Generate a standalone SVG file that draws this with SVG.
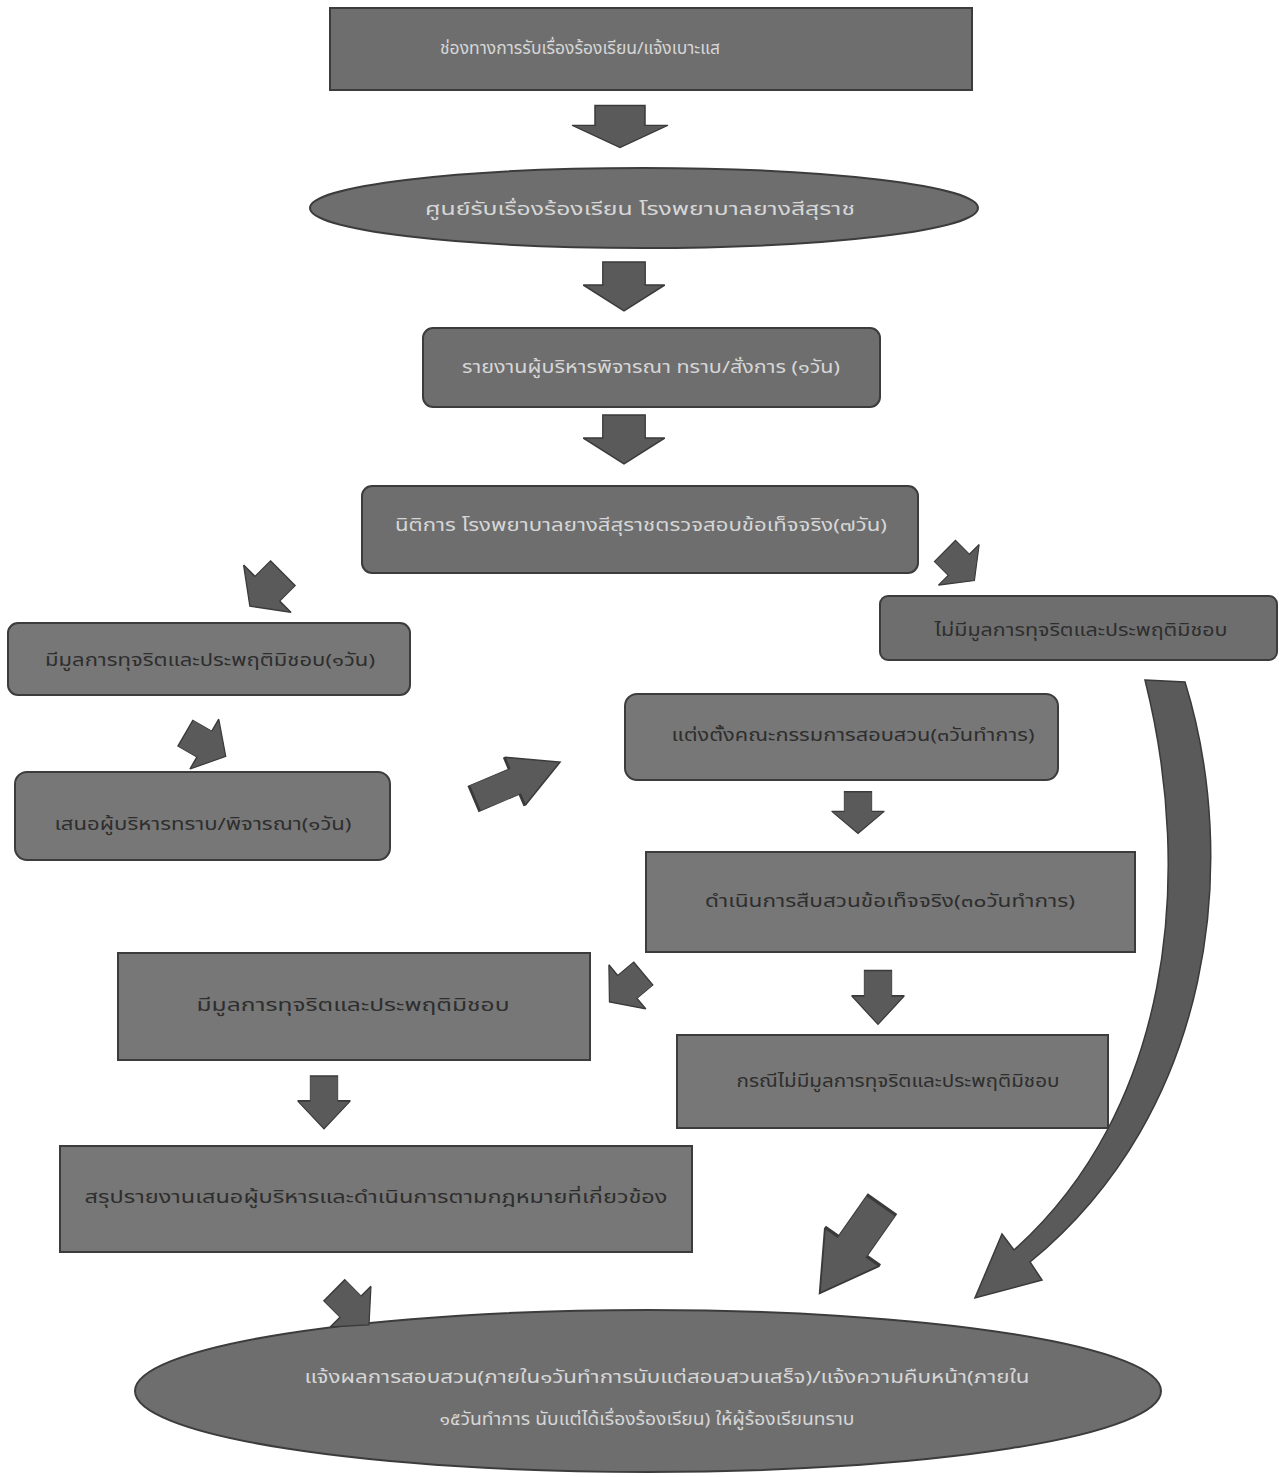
<svg xmlns="http://www.w3.org/2000/svg" xmlns:xlink="http://www.w3.org/1999/xlink" width="1284" height="1477" viewBox="0 0 1284 1477">
<style>
.box{fill:#6e6e6e;stroke:#3c3c3c;stroke-width:2}
.box2{fill:#777777;stroke:#3c3c3c;stroke-width:2}
.arr{fill:#5a5a5a;stroke:#3a3a3a;stroke-width:1.5}
text{font-family:"Noto Sans Thai","Noto Serif Thai","Liberation Serif","DejaVu Serif",serif;font-size:17px;text-anchor:middle}
.lt{fill:#d6d6d6}
.dk{fill:#2e2e2e}
</style>
<defs>
<path id="down" d="M-25,-25 H25 V-2 H48 L0,24 L-48,-2 H-25 Z"/>
</defs>
<rect width="1284" height="1477" fill="#ffffff"/>

<g id="n1"><rect class="box" x="330" y="8" width="642" height="82"/><text class="lt" x="580" y="54" textLength="280" lengthAdjust="spacingAndGlyphs">ช่องทางการรับเรื่องร้องเรียน/แจ้งเบาะแส</text></g>
<g id="n2"><ellipse class="box" cx="644" cy="208" rx="334" ry="40"/><text class="lt" x="640" y="215" textLength="430" lengthAdjust="spacingAndGlyphs">ศูนย์รับเรื่องร้องเรียน โรงพยาบาลยางสีสุราช</text></g>
<g id="n3"><rect class="box" x="423" y="328" width="457" height="79" rx="10"/><text class="lt" x="651" y="373" textLength="378" lengthAdjust="spacingAndGlyphs">รายงานผู้บริหารพิจารณา ทราบ/สั่งการ (๑วัน)</text></g>
<g id="n4"><rect class="box" x="362" y="486" width="556" height="87" rx="10"/><text class="lt" x="641" y="531" textLength="492" lengthAdjust="spacingAndGlyphs">นิติการ โรงพยาบาลยางสีสุราชตรวจสอบข้อเท็จจริง(๗วัน)</text></g>
<g id="n5"><rect class="box2" x="8" y="623" width="402" height="72" rx="10"/><text class="dk" x="210" y="666" textLength="330" lengthAdjust="spacingAndGlyphs">มีมูลการทุจริตและประพฤติมิชอบ(๑วัน)</text></g>
<g id="n6"><rect class="box" x="880" y="596" width="397" height="64" rx="8"/><text class="dk" x="1081" y="636" textLength="293" lengthAdjust="spacingAndGlyphs">ไม่มีมูลการทุจริตและประพฤติมิชอบ</text></g>
<g id="n7"><rect class="box2" x="625" y="694" width="433" height="86" rx="12"/><text class="dk" x="853" y="741" textLength="363" lengthAdjust="spacingAndGlyphs">แต่งตั้งคณะกรรมการสอบสวน(๓วันทำการ)</text></g>
<g id="n8"><rect class="box2" x="15" y="772" width="375" height="88" rx="12"/><text class="dk" x="203" y="830" textLength="297" lengthAdjust="spacingAndGlyphs">เสนอผู้บริหารทราบ/พิจารณา(๑วัน)</text></g>
<g id="n9"><rect class="box2" x="646" y="852" width="489" height="100"/><text class="dk" x="890" y="907" textLength="370" lengthAdjust="spacingAndGlyphs">ดำเนินการสืบสวนข้อเท็จจริง(๓๐วันทำการ)</text></g>
<g id="n10"><rect class="box2" x="118" y="953" width="472" height="107"/><text class="dk" x="353" y="1011" textLength="313" lengthAdjust="spacingAndGlyphs">มีมูลการทุจริตและประพฤติมิชอบ</text></g>
<g id="n11"><rect class="box2" x="677" y="1035" width="431" height="93"/><text class="dk" x="898" y="1087" textLength="323" lengthAdjust="spacingAndGlyphs">กรณีไม่มีมูลการทุจริตและประพฤติมิชอบ</text></g>
<g id="n12"><rect class="box2" x="60" y="1146" width="632" height="106"/><text class="dk" x="376" y="1203" textLength="583" lengthAdjust="spacingAndGlyphs">สรุปรายงานเสนอผู้บริหารและดำเนินการตามกฎหมายที่เกี่ยวข้อง</text></g>
<g id="n13"><ellipse class="box" cx="648" cy="1391" rx="513" ry="81"/>
<text class="lt" x="667" y="1383" textLength="725" lengthAdjust="spacingAndGlyphs">แจ้งผลการสอบสวน(ภายใน๑วันทำการนับแต่สอบสวนเสร็จ)/แจ้งความคืบหน้า(ภายใน</text>
<text class="lt" x="647" y="1425" textLength="415" lengthAdjust="spacingAndGlyphs">๑๕วันทำการ นับแต่ได้เรื่องร้องเรียน) ให้ผู้ร้องเรียนทราบ</text></g>

<g id="connectors">
<use xlink:href="#down" class="arr" transform="translate(620,127) scale(1,0.86)"/>
<use xlink:href="#down" class="arr" transform="translate(624,287) scale(0.85,1)"/>
<use xlink:href="#down" class="arr" transform="translate(624,440) scale(0.85,1)"/>
<use xlink:href="#down" class="arr" transform="translate(266,590) rotate(45) scale(0.7,0.95)"/>
<use xlink:href="#down" class="arr" transform="translate(960,566) rotate(-45) scale(0.6,0.85)"/>
<use xlink:href="#down" class="arr" transform="translate(206,745) rotate(-60) scale(0.6,0.95)"/>
<use xlink:href="#down" class="arr" transform="translate(518,780) rotate(-113) scale(0.55,1.9)"/>
<use xlink:href="#down" class="arr" transform="translate(858,813) scale(0.55,0.85)"/>
<use xlink:href="#down" class="arr" transform="translate(626,988) rotate(50) scale(0.6,0.9)"/>
<use xlink:href="#down" class="arr" transform="translate(878,998) scale(0.55,1.1)"/>
<use xlink:href="#down" class="arr" transform="translate(324,1103) scale(0.55,1.08)"/>
<use xlink:href="#down" class="arr" transform="translate(850,1250) rotate(35) scale(0.7,2.2)"/>
<use xlink:href="#down" class="arr" transform="translate(352,1308) rotate(-45) scale(0.6,1)"/>
<path class="arr" d="M1145,680 L1185,682 C1240,860 1215,1110 1030,1262 L1042,1280 L975,1298 L1002,1234 L1014,1250 C1170,1110 1195,880 1145,680 Z"/>
</g>
</svg>
